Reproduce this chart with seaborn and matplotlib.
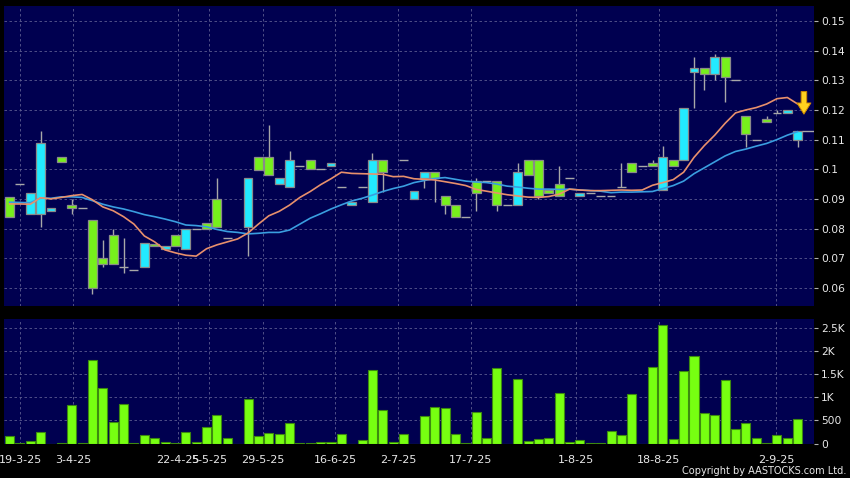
import numpy as np
import pandas as pd
import matplotlib
matplotlib.use("Agg")
import matplotlib.pyplot as plt
import seaborn as sns

# ---------------- data ----------------
open_ = [0.0907, 0.0950, 0.0848, 0.0848, 0.0858, 0.1043, 0.0878, 0.0868, 0.0829, 0.0700,
         0.0778, 0.0670, 0.0660, 0.0670, 0.0749, 0.0731, 0.0777, 0.0732, 0.0797, 0.0818,
         0.0899, 0.0767, np.nan, 0.0806, 0.1040, 0.1040, 0.0949, 0.0939, 0.1010, 0.1030,
         0.1000, 0.1010, 0.0939, 0.0878, 0.0939, 0.0888, 0.1030, np.nan, 0.1030, 0.0899,
         0.0969, 0.0990, 0.0909, 0.0878, 0.0838, 0.0959, 0.0959, 0.0959, 0.0878, 0.0878,
         0.1030, 0.1030, 0.0929, 0.0949, 0.0969, 0.0909, 0.0919, 0.0909, 0.0909, 0.0940,
         0.1020, 0.1010, 0.1020, 0.0930, 0.1030, 0.1030, 0.1329, 0.1340, 0.1320, 0.1378,
         0.1300, 0.1179, 0.1100, 0.1168, 0.1189, 0.1189, 0.1098]
close = [0.0838, 0.0950, 0.0919, 0.1088, 0.0868, 0.1023, 0.0868, 0.0868, 0.0600, 0.0679,
         0.0680, 0.0670, 0.0660, 0.0750, 0.0740, 0.0741, 0.0740, 0.0797, 0.0797, 0.0798,
         0.0806, 0.0767, np.nan, 0.0969, 0.0999, 0.0980, 0.0969, 0.1030, 0.1010, 0.1000,
         0.1000, 0.1020, 0.0939, 0.0888, 0.0939, 0.1030, 0.0990, np.nan, 0.1030, 0.0928,
         0.0990, 0.0969, 0.0878, 0.0838, 0.0838, 0.0919, 0.0959, 0.0878, 0.0878, 0.0990,
         0.0980, 0.0909, 0.0919, 0.0909, 0.0969, 0.0919, 0.0919, 0.0909, 0.0909, 0.0940,
         0.0990, 0.1010, 0.1010, 0.1040, 0.1010, 0.1208, 0.1340, 0.1320, 0.1378, 0.1310,
         0.1300, 0.1118, 0.1100, 0.1158, 0.1189, 0.1199, 0.1129]
high = [0.0907, 0.0950, 0.0919, 0.1129, 0.0868, 0.1043, 0.0900, 0.0868, 0.0829, 0.0762,
        0.0797, 0.0768, 0.0660, 0.0750, 0.0749, 0.0741, 0.0777, 0.0797, 0.0797, 0.0818,
        0.0969, 0.0767, np.nan, 0.0969, 0.1040, 0.1149, 0.0969, 0.1062, 0.1010, 0.1030,
        0.1000, 0.1020, 0.0939, 0.0888, 0.0939, 0.1054, 0.1030, np.nan, 0.1030, 0.0928,
        0.0990, 0.0990, 0.0909, 0.0878, 0.0838, 0.0969, 0.0959, 0.0959, 0.0878, 0.1022,
        0.1030, 0.1030, 0.0929, 0.1011, 0.0969, 0.0919, 0.0919, 0.0909, 0.0909, 0.1020,
        0.1020, 0.1010, 0.1031, 0.1078, 0.1030, 0.1208, 0.1380, 0.1340, 0.1389, 0.1378,
        0.1300, 0.1179, 0.1100, 0.1180, 0.1200, 0.1199, 0.1129]
low = [0.0838, 0.0950, 0.0848, 0.0806, 0.0858, 0.1023, 0.0848, 0.0868, 0.0578, 0.0669,
       0.0680, 0.0649, 0.0660, 0.0670, 0.0740, 0.0731, 0.0740, 0.0732, 0.0797, 0.0798,
       0.0806, 0.0767, np.nan, 0.0707, 0.0999, 0.0980, 0.0949, 0.0939, 0.1010, 0.1000,
       0.1000, 0.1010, 0.0939, 0.0878, 0.0939, 0.0888, 0.0924, np.nan, 0.1030, 0.0899,
       0.0936, 0.0888, 0.0848, 0.0838, 0.0838, 0.0858, 0.0959, 0.0858, 0.0878, 0.0878,
       0.0980, 0.0899, 0.0919, 0.0909, 0.0969, 0.0909, 0.0919, 0.0909, 0.0909, 0.0940,
       0.0990, 0.1010, 0.1010, 0.0930, 0.1010, 0.1030, 0.1208, 0.1267, 0.1300, 0.1228,
       0.1300, 0.1076, 0.1100, 0.1158, 0.1189, 0.1189, 0.1076]
ma_short = [0.0883, 0.0883, 0.0882, 0.0904, 0.0900, 0.0905, 0.0911, 0.0915, 0.0897, 0.0873,
            0.0860, 0.0840, 0.0815, 0.0775, 0.0755, 0.0728, 0.0718, 0.0710, 0.0707, 0.0732,
            0.0745, 0.0755, 0.0765, 0.0785, 0.0815, 0.0843, 0.0858, 0.0879, 0.0905, 0.0925,
            0.0948, 0.0968, 0.0990, 0.0986, 0.0985, 0.0984, 0.0983, 0.0975, 0.0976, 0.0968,
            0.0966, 0.0964, 0.0958, 0.0952, 0.0945, 0.0932, 0.0926, 0.0920, 0.0914, 0.0910,
            0.0906, 0.0905, 0.0908, 0.0916, 0.0933, 0.0930, 0.0928, 0.0928, 0.0929, 0.0930,
            0.0929, 0.0930, 0.0946, 0.0955, 0.0965, 0.0990, 0.1040, 0.1080, 0.1115, 0.1155,
            0.1190, 0.1200, 0.1208, 0.1220, 0.1238, 0.1242, 0.1220]
ma_long = [0.0889, 0.0888, 0.0887, 0.0903, 0.0902, 0.0907, 0.0907, 0.0905, 0.0894, 0.0882,
           0.0873, 0.0866, 0.0857, 0.0847, 0.0840, 0.0832, 0.0823, 0.0812, 0.0810, 0.0806,
           0.0797, 0.0790, 0.0787, 0.0782, 0.0784, 0.0787, 0.0787, 0.0795, 0.0815, 0.0835,
           0.0850, 0.0866, 0.0880, 0.0893, 0.0902, 0.0913, 0.0925, 0.0935, 0.0943, 0.0955,
           0.0962, 0.0969, 0.0972, 0.0966, 0.0960, 0.0957, 0.0955, 0.0950, 0.0943, 0.0940,
           0.0936, 0.0933, 0.0933, 0.0932, 0.0933, 0.0930, 0.0928, 0.0926, 0.0921, 0.0923,
           0.0923, 0.0924, 0.0925, 0.0935, 0.0945, 0.0960, 0.0985, 0.1005, 0.1025, 0.1045,
           0.1060, 0.1068, 0.1078, 0.1087, 0.1100, 0.1115, 0.1127]
volume = [160, 5, 50, 253, 0, 20, 840, 10, 1804, 1202,
          470, 855, 20, 174, 123, 40, 15, 246, 40, 355,
          608, 116, 0, 970, 159, 231, 209, 449, 10, 10,
          35, 35, 209, 0, 80, 1593, 717, 25, 202, 0,
          593, 789, 760, 202, 20, 673, 115, 1644, 0, 1405,
          50, 100, 115, 1093, 30, 72, 5, 15, 282, 180,
          1065, 0, 1659, 2572, 93, 1579, 1898, 659, 615, 1376,
          318, 441, 122, 20, 180, 130, 528]
tick_pos = [1.04, 6.15, 16.28, 19.27, 24.42, 31.42, 37.5, 44.5, 54.6, 62.6, 73.9]
tick_labels = ['19-3-25', '3-4-25', '22-4-25', '5-5-25', '29-5-25', '16-6-25',
               '2-7-25', '17-7-25', '1-8-25', '18-8-25', '2-9-25']
price_ticks = [0.06, 0.07, 0.08, 0.09, 0.10, 0.11, 0.12, 0.13, 0.14, 0.15]
price_tick_labels = ['0.06', '0.07', '0.08', '0.09', '0.1', '0.11', '0.12', '0.13', '0.14', '0.15']
vol_ticks = [0, 500, 1000, 1500, 2000, 2500]
vol_tick_labels = ['0', '500', '1K', '1.5K', '2K', '2.5K']
signal_top, signal_tip = 0.1262, 0.1186

# ---------------- style ----------------
sns.set_style("dark")
plt.rcParams['font.family'] = ['DejaVu Sans']

BG = '#000050'
GRID = '#5c5c90'
TXT = '#e8e8e8'
CYAN = '#22eaff'
GREEN = '#77f01c'
WICK = '#a8a8a8'

fig = plt.figure(figsize=(8.5, 4.78), dpi=100, facecolor='black')
ax = fig.add_axes([4 / 850, 1 - 306 / 478, 810.3 / 850, 300 / 478])
axv = fig.add_axes([4 / 850, 1 - 443.5 / 478, 810.3 / 850, 124.5 / 478])

idx = np.arange(len(close))
o = np.array(open_, float)
c = np.array(close, float)
h = np.array(high, float)
l = np.array(low, float)
up = c > o
down = c < o
flat = c == o
bw = 0.86

# wicks
ax.vlines(idx, l, h, color=WICK, lw=1, zorder=2)
# bodies
ax.bar(idx[up], (c - o)[up], bottom=o[up], width=bw, color=CYAN,
       edgecolor='#8a8a8a', linewidth=0.9, zorder=3)
ax.bar(idx[down], (o - c)[down], bottom=c[down], width=bw, color=GREEN,
       edgecolor='#8a8a8a', linewidth=0.9, zorder=3)
ax.hlines(c[flat], idx[flat] - bw / 2, idx[flat] + bw / 2, color=WICK, lw=1, zorder=3)

# moving averages
sns.lineplot(x=idx, y=ma_long, ax=ax, color='#3a9ee0', lw=1.2, zorder=4)
sns.lineplot(x=idx, y=ma_short, ax=ax, color='#e8906c', lw=1.2, zorder=5)

xmin, xmax = -0.53, 77.6
# last price line
ax.hlines(c[-1], idx[-1] + bw / 2, xmax, color=WICK, lw=1, zorder=3)

# yellow signal arrow
ax.annotate('', xy=(idx[-1] + 0.6, signal_tip), xytext=(idx[-1] + 0.6, signal_top),
            arrowprops=dict(arrowstyle='simple,head_length=0.8,head_width=1.0,tail_width=0.4',
                            fc='#ffd21f', ec='#d08a00', lw=0.7, mutation_scale=10,
                            shrinkA=0, shrinkB=0), zorder=6)

ax.set_xlim(xmin, xmax)
ax.set_ylim(0.05388, 0.15506)
ax.set_facecolor(BG)
ax.yaxis.tick_right()
ax.set_yticks(price_ticks)
ax.set_yticklabels(price_tick_labels)
ax.set_xticks(tick_pos)
ax.set_xticklabels([])
ax.tick_params(axis='x', length=0)
ax.tick_params(axis='y', length=3, width=0.8, color='#b0b0b0', pad=2,
               labelsize=7.7, labelcolor=TXT, direction='out')
ax.grid(True, color=GRID, ls=(0, (3, 3)), lw=0.6)
ax.set_axisbelow(True)
ax.set_xlabel('')
ax.set_ylabel('')
for s in ax.spines.values():
    s.set_visible(False)

# volume
dfv = pd.DataFrame({'i': idx, 'v': volume})
sns.barplot(data=dfv, x='i', y='v', ax=axv, color='#77ff11', saturation=1,
            edgecolor='#3d8a10', linewidth=0.8, width=0.87, zorder=3)
axv.set_xlim(xmin, xmax)
axv.set_ylim(0, 2702)
axv.set_facecolor(BG)
axv.yaxis.tick_right()
axv.set_yticks(vol_ticks)
axv.set_yticklabels(vol_tick_labels)
axv.set_xticks(tick_pos)
axv.set_xticklabels(tick_labels)
axv.tick_params(axis='y', length=3, width=0.8, color='#b0b0b0', pad=2,
                labelsize=7.7, labelcolor=TXT, direction='out')
axv.tick_params(axis='x', length=4, width=0.8, color='#b0b0b0', pad=4,
                labelsize=8, labelcolor=TXT, direction='out')
axv.grid(True, color=GRID, ls=(0, (3, 3)), lw=0.6)
axv.set_axisbelow(True)
axv.set_xlabel('')
axv.set_ylabel('')
for s in axv.spines.values():
    s.set_visible(False)

fig.text(846 / 850, 1 - 471 / 478, 'Copyright by AASTOCKS.com Ltd.', ha='right',
         va='center', color=TXT, fontsize=7.8, fontstretch='condensed')

fig.savefig('out.png', dpi=100, facecolor='black')
